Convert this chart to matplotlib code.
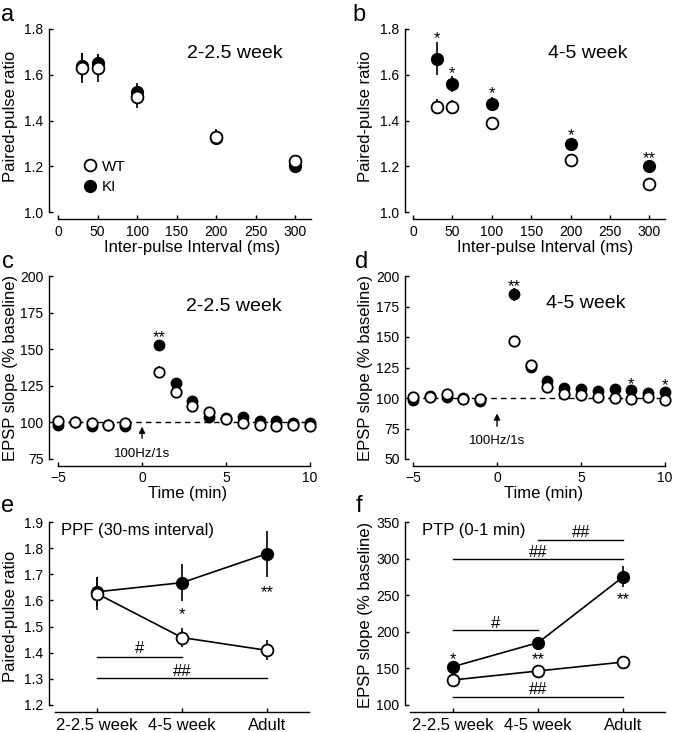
import matplotlib
matplotlib.use("Agg")
import matplotlib.pyplot as plt
from matplotlib.lines import Line2D

plt.rcParams['font.family'] = ['Liberation Sans', 'DejaVu Sans']

# ---- data ----
ipi = [30, 50, 100, 200, 300]

# a: 2-2.5 week paired-pulse
a_wt = [1.63, 1.63, 1.504, 1.328, 1.223]
a_wt_err = [0.065, 0.06, 0.05, 0.035, 0.01]
a_ki = [1.638, 1.65, 1.526, 1.325, 1.20]
a_ki_err = [0.055, 0.04, 0.04, 0.02, 0.01]

# b: 4-5 week paired-pulse
b_wt = [1.46, 1.46, 1.387, 1.229, 1.123]
b_wt_err = [0.032, 0.03, 0.012, 0.01, 0.01]
b_ki = [1.669, 1.559, 1.474, 1.296, 1.20]
b_ki_err = [0.072, 0.036, 0.028, 0.015, 0.012]
b_star_y = [1.78, 1.63, 1.54, 1.355, 1.258]
b_star = ["*", "*", "*", "*", "**"]

# c, d: time course
t = [-5, -4, -3, -2, -1, 1, 2, 3, 4, 5, 6, 7, 8, 9, 10]
c_wt = [101.2, 100.5, 99.4, 98.3, 99.6, 134.3, 120.6, 111.0, 106.9, 102.6, 99.6, 98.5, 97.6, 98.5, 97.6]
c_wt_err = [1, 1, 1, 1, 1, 4, 4, 2, 1.5, 1, 1, 1, 1, 1, 1]
c_ki = [98.5, 100.0, 97.6, 98.0, 97.6, 152.6, 126.8, 114.5, 104.0, 103.1, 103.5, 101.2, 100.8, 99.4, 99.6]
c_ki_err = [1, 1, 1, 1, 1, 4, 2, 2, 1.5, 1, 1, 1, 1, 1, 1]

d_wt = [100.6, 100.6, 103.4, 99.3, 99.0, 146.6, 126.9, 109.4, 103.4, 102.8, 101.2, 100.1, 99.5, 101.2, 98.7]
d_wt_err = [1, 1, 1, 1, 1, 3, 2, 2, 1, 1, 1, 1, 1, 1, 1]
d_ki = [98.4, 101.7, 100.6, 100.0, 97.3, 184.9, 125.3, 113.8, 108.3, 107.2, 105.6, 107.2, 106.9, 103.9, 104.7]
d_ki_err = [1, 1, 1, 1, 1, 5, 2, 2, 1.5, 1, 1, 1, 1, 1, 1]

# e, f: age groups
ages = ["2-2.5 week", "4-5 week", "Adult"]
e_wt = [1.626, 1.458, 1.409]
e_wt_err = [0.064, 0.036, 0.038]
e_ki = [1.633, 1.668, 1.779]
e_ki_err = [0.056, 0.072, 0.088]

f_wt = [134.2, 146.5, 158.7]
f_wt_err = [2, 2, 2]
f_ki = [152.4, 185.2, 275.3]
f_ki_err = [3, 3, 14]

W, H = 675, 732
fig = plt.figure(figsize=(W / 100, H / 100), dpi=100)


def make_ax(l, t_, r, b):
    ax = fig.add_axes([l / W, 1 - b / H, (r - l) / W, (b - t_) / H])
    ax.spines['top'].set_visible(False)
    ax.spines['right'].set_visible(False)
    ax.spines['bottom'].set_position(('outward', 5))
    ax.spines['left'].set_linewidth(1.0)
    ax.spines['bottom'].set_linewidth(1.0)
    ax.tick_params(direction='in', length=3, width=1.0, labelsize=10)
    ax.tick_params(axis='y', pad=4)
    ax.tick_params(axis='x', pad=4)
    return ax


def pts(ax, x, wt, wt_err, ki, ki_err, ms=8.5, line=False):
    ls = '-' if line else 'none'
    ax.errorbar(x, ki, yerr=ki_err, fmt='o', color='k', mfc='k', mec='k', ms=ms,
                elinewidth=1.2, capsize=0, ls=ls, lw=1.2, zorder=3, clip_on=False)
    ax.errorbar(x, wt, yerr=wt_err, fmt='o', color='k', mfc='white', mec='k', ms=ms,
                mew=1.3, elinewidth=1.2, capsize=0, ls=ls, lw=1.2, zorder=4, clip_on=False)


def star(ax, x, y, s):
    ax.annotate(s, (x, y), xytext=(0, -3.8), textcoords='offset points',
                ha='center', va='center', fontsize=12)


def ylab(ax, text, x, y):
    # x = right edge of the rotated label
    ax.set_ylabel(text, fontsize=12)
    ax.yaxis.set_label_coords(x / W, 1 - y / H, transform=fig.transFigure)


def xlab(ax, text, x, y):
    # y = top edge of the label
    ax.set_xlabel(text, fontsize=12)
    ax.xaxis.set_label_coords(x / W, 1 - y / H, transform=fig.transFigure)


# ---- a ----
ax = make_ax(49, 29, 311, 212)
pts(ax, ipi, a_wt, a_wt_err, a_ki, a_ki_err)
ax.set_xlim(-11.4, 320)
ax.set_ylim(1.0, 1.8)
ax.spines['bottom'].set_bounds(0, 320)
ax.set_xticks([0, 50, 100, 150, 200, 250, 300])
ax.set_yticks([1.0, 1.2, 1.4, 1.6, 1.8])
ax.set_yticklabels(["1.0", "1.2", "1.4", "1.6", "1.8"])
ax.text(223, 1.673, "2-2.5 week", ha='center', va='baseline', fontsize=14)
handles = [Line2D([], [], marker='o', ls='none', mfc='white', mec='k', mew=1.3, ms=8.5, color='k'),
           Line2D([], [], marker='o', ls='none', mfc='k', mec='k', ms=8.5, color='k')]
ax.legend(handles, ["WT", "KI"], loc='center left', bbox_to_anchor=(0.126, 0.191),
          frameon=False, handlelength=1, handletextpad=0.3, labelspacing=0.45,
          borderpad=0, borderaxespad=0, fontsize=11)
ylab(ax, "Paired-pulse ratio", 18, 116)
xlab(ax, "Inter-pulse Interval (ms)", 192, 240)
fig.text(8 / W, 1 - 15 / H, "a", fontsize=17, ha='center', va='center')

# ---- b ----
ax = make_ax(405, 29, 665, 212)
pts(ax, ipi, b_wt, b_wt_err, b_ki, b_ki_err)
for x, y, s in zip(ipi, b_star_y, b_star):
    star(ax, x, y, s)
ax.set_xlim(-10.2, 320)
ax.set_ylim(1.0, 1.8)
ax.spines['bottom'].set_bounds(0, 320)
ax.set_xticks([0, 50, 100, 150, 200, 250, 300])
ax.set_yticks([1.0, 1.2, 1.4, 1.6, 1.8])
ax.set_yticklabels(["1.0", "1.2", "1.4", "1.6", "1.8"])
ax.text(222, 1.673, "4-5 week", ha='center', va='baseline', fontsize=14)
ylab(ax, "Paired-pulse ratio", 373, 116)
xlab(ax, "Inter-pulse Interval (ms)", 545, 240)
fig.text(359 / W, 1 - 15 / H, "b", fontsize=17, ha='center', va='center')

# ---- c ----
ax = make_ax(49, 276, 310, 459)
ax.plot([-5, 10], [100, 100], color='k', ls=(0, (4, 3)), lw=1.0, zorder=1)
pts(ax, t, c_wt, c_wt_err, c_ki, c_ki_err, ms=7.5)
star(ax, 1, 161.7, "**")
ax.annotate('', xy=(0, 99), xytext=(0, 87.3),
            arrowprops=dict(arrowstyle='-|>', color='k', lw=1.0, mutation_scale=9))
ax.text(0, 76.5, "100Hz/1s", ha='center', va='baseline', fontsize=9.5)
ax.set_xlim(-5.54, 10)
ax.set_ylim(75, 200)
ax.spines['bottom'].set_bounds(-5, 10)
ax.set_xticks([-5, 0, 5, 10])
ax.set_yticks([75, 100, 125, 150, 175, 200])
ax.text(5.48, 176.3, "2-2.5 week", ha='center', va='baseline', fontsize=14)
ylab(ax, "EPSP slope (% baseline)", 18, 368)
xlab(ax, "Time (min)", 188, 486)
fig.text(8 / W, 1 - 262 / H, "c", fontsize=17, ha='center', va='center')

# ---- d ----
ax = make_ax(405, 276, 665, 459)
ax.plot([-5, 10], [100, 100], color='k', ls=(0, (4, 3)), lw=1.0, zorder=1)
pts(ax, t, d_wt, d_wt_err, d_ki, d_ki_err, ms=7.5)
star(ax, 1, 196, "**")
star(ax, 8, 115.6, "*")
star(ax, 10, 114.2, "*")
ax.annotate('', xy=(0, 89.6), xytext=(0, 74.6),
            arrowprops=dict(arrowstyle='-|>', color='k', lw=1.0, mutation_scale=9))
ax.text(0, 62.3, "100Hz/1s", ha='center', va='baseline', fontsize=9.5)
ax.set_xlim(-5.48, 10)
ax.set_ylim(50, 200)
ax.spines['bottom'].set_bounds(-5, 10)
ax.set_xticks([-5, 0, 5, 10])
ax.set_yticks([50, 75, 100, 125, 150, 175, 200])
ax.text(5.3, 173.8, "4-5 week", ha='center', va='baseline', fontsize=14)
ylab(ax, "EPSP slope (% baseline)", 373, 368)
xlab(ax, "Time (min)", 544, 486)
fig.text(362 / W, 1 - 262 / H, "d", fontsize=17, ha='center', va='center')

# ---- e ----
ax = make_ax(49, 522, 310, 705)
pts(ax, [0, 1, 2], e_wt, e_wt_err, e_ki, e_ki_err, ms=8.5, line=True)
star(ax, 1, 1.564, "*")
star(ax, 2, 1.65, "**")
ax.plot([0, 1], [1.385, 1.385], color='k', lw=1.0)
ax.text(0.5, 1.418, "#", ha='center', va='center', fontsize=12)
ax.plot([0, 2], [1.303, 1.303], color='k', lw=1.0)
ax.text(1, 1.329, "##", ha='center', va='center', fontsize=12)
ax.text(-0.42, 1.85, "PPF (30-ms interval)", ha='left', va='baseline', fontsize=12)
ax.set_xlim(-0.565, 2.506)
ax.set_ylim(1.2, 1.9)
ax.spines['bottom'].set_bounds(-0.5, 2.5)
ax.set_xticks([0, 1, 2])
ax.set_xticklabels(ages, fontsize=12)
ax.set_yticks([1.2, 1.3, 1.4, 1.5, 1.6, 1.7, 1.8, 1.9])
ylab(ax, "Paired-pulse ratio", 18, 616)
fig.text(8 / W, 1 - 506 / H, "e", fontsize=17, ha='center', va='center')

# ---- f ----
ax = make_ax(405, 522, 665, 705)
pts(ax, [0, 1, 2], f_wt, f_wt_err, f_ki, f_ki_err, ms=8.5, line=True)
star(ax, 0, 168.7, "*")
star(ax, 1, 168.7, "**")
star(ax, 2, 250.7, "**")
ax.plot([1, 2], [325.4, 325.4], color='k', lw=1.0)
ax.text(1.5, 336, "##", ha='center', va='center', fontsize=12)
ax.plot([0, 2], [299, 299], color='k', lw=1.0)
ax.text(1, 309, "##", ha='center', va='center', fontsize=12)
ax.plot([0, 1], [202, 202], color='k', lw=1.0)
ax.text(0.5, 212, "#", ha='center', va='center', fontsize=12)
ax.plot([0, 2], [111.4, 111.4], color='k', lw=1.0)
ax.text(1, 121, "##", ha='center', va='center', fontsize=12)
ax.text(-0.365, 332, "PTP (0-1 min)", ha='left', va='baseline', fontsize=12)
ax.set_xlim(-0.565, 2.49)
ax.set_ylim(100, 350)
ax.spines['bottom'].set_bounds(-0.506, 2.49)
ax.set_xticks([0, 1, 2])
ax.set_xticklabels(ages, fontsize=12)
ax.set_yticks([100, 150, 200, 250, 300, 350])
ylab(ax, "EPSP slope (% baseline)", 373, 615)
fig.text(359 / W, 1 - 506 / H, "f", fontsize=17, ha='center', va='center')

fig.savefig("out.png", dpi=100)
